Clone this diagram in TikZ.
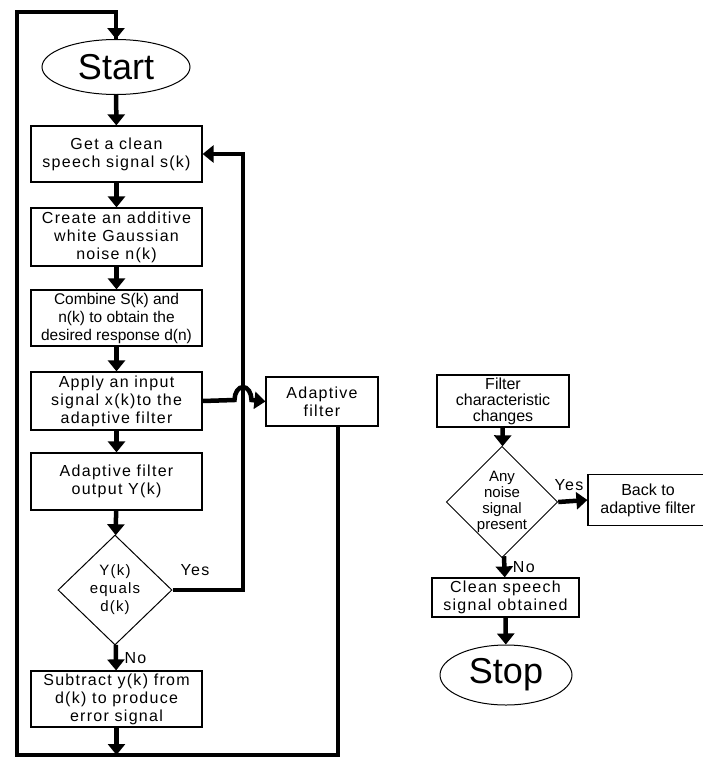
\documentclass[tikz,border=0pt]{standalone}
\usepackage{fontspec}
\setmainfont{Liberation Sans}
\newfontfamily\wide[LetterSpace=8]{Liberation Sans}
\usetikzlibrary{positioning, shapes.geometric, arrows.meta}

\tikzset{
  proc/.style={draw, line width=1.2pt, align=center, minimum width=171, minimum height=56,
    inner sep=1pt, font=\wide\fontsize{16}{18}\selectfont},
  term/.style={draw, ellipse, line width=1pt, inner sep=0pt, font=\fontsize{36}{40}\selectfont},
  decide/.style={draw, diamond, line width=1pt, align=center, inner sep=0pt,
    font=\wide\fontsize{15}{18}\selectfont},
  flow/.style={line width=4.5pt, -{Triangle[width=17pt,length=11pt]}},
  link/.style={line width=4.5pt},
  tag/.style={font=\wide\fontsize{16}{18}\selectfont}
}

\begin{document}
\begin{tikzpicture}[x=1pt, y=-1pt]
        \useasboundingbox (0,0) rectangle (702,758);
        % left column
        \node[term, minimum width=148, minimum height=55] (start) at (116,67) {Start};
        \node[proc] (get) at (116.5,154) {Get a clean\\speech signal s(k)};
        \node[proc, minimum height=58] (noise) at (116.5,237) {Create an additive\\white Gaussian\\noise n(k)};
        \node[proc, font=\fontsize{15.5}{18}\selectfont] (comb) at (116.5,318) {Combine S(k) and\\n(k) to obtain the\\desired response d(n)};
        \node[proc, minimum height=58] (apply) at (116.5,401) {Apply an input\\signal x(k)to the\\adaptive filter};
        \node[proc, minimum height=57] (out) at (116.5,481.5) {Adaptive filter\\output Y(k)};
        \node[decide, minimum width=114, minimum height=110] (equal) at (115,590) {Y(k)\\equals\\d(k)};
        \node[proc] (sub) at (116.5,699) {Subtract y(k) from\\d(k) to produce\\error signal};
        \node[proc, minimum width=112, minimum height=49] (adapt) at (322,401.5) {Adaptive\\filter};
        % right column
        \node[proc, minimum width=132, minimum height=52, font=\fontsize{16}{16}\selectfont] (chg) at (503,401) {Filter\\characteristic\\changes};
        \node[decide, minimum width=110, minimum height=106, font=\fontsize{15}{16}\selectfont] (any) at (502,502) {Any\\noise\\signal\\present};
        \node[proc, minimum width=120, minimum height=51, font=\fontsize{16}{18}\selectfont] (back) at (648,500) {Back to\\adaptive filter};
        \node[proc, minimum width=147, minimum height=39] (clean) at (505.5,597.5) {Clean speech\\signal obtained};
        \node[term, minimum width=132, minimum height=60] (stop) at (506,675) {Stop};

        \coordinate (fb) at (243,590);
        \coordinate (bot) at (338,755);
        \coordinate (top) at (17,12);

        \draw[flow] (start) -- (get);
        \draw[flow] (get) -- (noise);
        \draw[flow] (noise) -- (comb);
        \draw[flow] (comb) -- (apply);
        \draw[flow] (apply) -- (out);
        \draw[flow] (out) -- (equal);
        \draw[flow] (equal) -- node[tag, right=3] {No} (sub);
        \draw[flow] (sub.south) -- (sub.south |- bot);
        \draw[flow] (equal.east) -- (fb) |- (get.east);
        \node[tag] (yes1) at (195,570) {Yes};
        \draw[flow] (apply.east) -- (234.5,400) arc (-180:0:8.5 and 13) -- (adapt.west);
        \draw[link] ([xshift=16]adapt.south) -- (bot) -| (top) -| (start.north);
        \draw[flow] (top -| start.north) -- (start.north);

        \draw[flow] (chg) -- (any);
        \draw[flow] (any.east) -- (back.west);
        \node[tag] (yes2) at (569,485) {Yes};
        \draw[flow] (any) -- node[tag, right=3] {No} (clean);
        \draw[flow] (clean) -- (stop);
    \end{tikzpicture}
\end{document}
